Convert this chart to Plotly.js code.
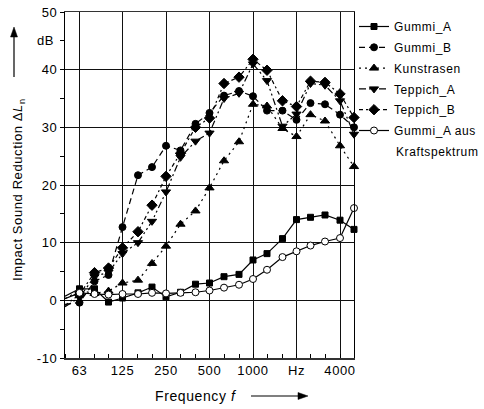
<!DOCTYPE html>
<html>
<head>
<meta charset="utf-8">
<script src="https://cdn.plot.ly/plotly-3.0.1.min.js"></script>
<style>
html,body{margin:0;padding:0;background:#fff;}
#chart{width:484px;height:409px;}
text{letter-spacing:0.6px;}
</style>
</head>
<body>
<div id="chart"></div>
<script>
// Third-octave band centre frequencies (Hz)
var freqs = [50,63,80,100,125,160,200,250,315,400,500,630,800,1000,1250,1600,2000,2500,3150,4000,5000];
var gummiA      = [0.7,2.0,2.0,-0.3,0.4,1.3,2.3,0.6,1.4,2.8,3.0,4.1,4.5,7.0,8.1,10.7,14.0,14.4,14.8,13.9,12.3];
var gummiB      = [-0.7,-0.4,3.3,4.4,12.7,21.7,23.1,26.8,26.0,30.6,32.5,35.5,36.3,35.4,32.9,32.9,31.3,34.2,34.0,32.2,30.0];
var kunstrasen  = [0.3,1.7,1.2,1.6,3.0,3.5,6.4,9.4,13.2,15.5,19.5,24.2,27.5,34.0,33.7,29.8,28.4,32.2,31.1,26.8,23.2];
var teppichA    = [-1.1,0.5,4.1,4.9,8.1,10.0,13.7,18.8,24.8,27.6,29.0,35.0,35.9,41.0,38.1,30.2,32.3,37.6,37.3,34.6,28.8];
var teppichB    = [-0.9,1.0,4.8,5.6,9.1,11.9,16.5,21.5,25.5,30.0,31.6,37.6,38.7,41.8,39.9,34.6,33.6,38.0,37.8,35.8,31.7];
var gummiAKraft = [0.3,1.3,1.1,1.0,1.1,1.1,1.3,1.2,1.3,1.4,1.7,2.2,2.7,3.7,5.3,7.5,8.5,9.5,10.2,10.8,16.0];

var xTickVals = [63,125,250,500,1000,2000,4000];
var xTickText = ['63','125','250','500','1000','Hz','4000'];
var yTickVals = [-10,0,10,20,30,40,50];
var yTickText = ['-10','0','10','20','30','40','50'];
var seriesNames = ['Gummi_A','Gummi_B','Kunstrasen','Teppich_A','Teppich_B','Gummi_A aus'];
var legendSecondLine = 'Kraftspektrum';

var black = '#000';
function tr(y, name, dash, symbol, size, fill){
  return {
    x: freqs, y: y, name: name, legendgroup: name, type: 'scatter', mode: 'lines+markers',
    line: {color: black, width: 1.2, dash: dash},
    marker: {symbol: symbol, size: size, color: fill || black, line: {color: black, width: 1}},
    cliponaxis: false
  };
}
var data = [
  tr(gummiA, seriesNames[0], 'solid', 'square', 6),
  tr(gummiB, seriesNames[1], '6px,4px', 'circle', 7),
  tr(kunstrasen, seriesNames[2], '2px,4px', 'triangle-up', 8),
  tr(teppichA, seriesNames[3], '7px,3px,2px,3px,2px,3px', 'triangle-down', 8),
  tr(teppichB, seriesNames[4], '4px,3px,2px,3px', 'diamond', 8),
  tr(gummiAKraft, seriesNames[5], 'solid', 'circle', 7, '#fff')
];

var fam = 'Liberation Sans, Arial, sans-serif';
var font = {family: fam, size: 12, color: '#000'};
var tickFont = {family: fam, size: 13, color: '#000'};
var px2x = function(p){ return (p - 65) / 289; };
var px2y = function(p){ return (358 - p) / 346; };

// arrow shapes (paper coordinates derived from pixel layout)
function arrowUp(x, yTail, yTip){
  return [
    {type: 'line', xref: 'paper', yref: 'paper', x0: px2x(x), x1: px2x(x), y0: px2y(yTail), y1: px2y(yTip + 6), line: {color: '#000', width: 1.2}},
    {type: 'path', xref: 'paper', yref: 'paper', fillcolor: '#000', line: {color: '#000', width: 0.5},
     path: 'M' + px2x(x) + ',' + px2y(yTip) + ' L' + px2x(x - 3.5) + ',' + px2y(yTip + 10) + ' L' + px2x(x + 3.5) + ',' + px2y(yTip + 10) + ' Z'}
  ];
}
function arrowRight(y, xTail, xTip){
  return [
    {type: 'line', xref: 'paper', yref: 'paper', x0: px2x(xTail), x1: px2x(xTip - 6), y0: px2y(y), y1: px2y(y), line: {color: '#000', width: 1.2}},
    {type: 'path', xref: 'paper', yref: 'paper', fillcolor: '#000', line: {color: '#000', width: 0.5},
     path: 'M' + px2x(xTip) + ',' + px2y(y) + ' L' + px2x(xTip - 10) + ',' + px2y(y - 3.5) + ' L' + px2x(xTip - 10) + ',' + px2y(y + 3.5) + ' Z'}
  ];
}

var layout = {
  width: 484, height: 409,
  margin: {l: 65, r: 130, t: 12, b: 51, autoexpand: false},
  paper_bgcolor: '#fff', plot_bgcolor: '#fff',
  font: font,
  showlegend: true,
  legend: {x: 1.0, xanchor: 'left', y: 1.0, yanchor: 'top', font: font,
           bgcolor: 'rgba(0,0,0,0)', tracegroupgap: 1.8, itemwidth: 30, traceorder: 'grouped'},
  xaxis: {
    type: 'log', range: [Math.log10(50), Math.log10(5000)],
    tickmode: 'array', tickvals: xTickVals, ticktext: xTickText,
    ticks: '', showgrid: true, gridcolor: '#111', gridwidth: 1,
    showline: true, linecolor: '#333', linewidth: 1.5, mirror: true,
    zeroline: false, tickfont: tickFont, automargin: false,
    minor: {tickmode: 'array', tickvals: freqs, ticks: 'inside', ticklen: 4, tickcolor: '#000', showgrid: false}
  },
  yaxis: {
    range: [-10, 50], tickmode: 'array', tickvals: yTickVals, ticktext: yTickText,
    ticks: 'outside', ticklen: 4, tickcolor: '#000',
    showgrid: true, gridcolor: '#111', gridwidth: 1,
    showline: true, linecolor: '#000', linewidth: 1, mirror: true,
    zeroline: false, tickfont: tickFont, automargin: false,
    minor: {tickmode: 'linear', tick0: -10, dtick: 5, ticks: 'outside', ticklen: 4, tickcolor: '#000', showgrid: false}
  },
  shapes: [].concat(arrowUp(14, 77, 27), arrowRight(396, 251, 308)),
  annotations: [
    {xref: 'paper', yref: 'y', x: 0, y: 45, xanchor: 'right', xshift: -9, text: 'dB', showarrow: false, font: tickFont},
    {xref: 'paper', yref: 'paper', x: px2x(18), y: px2y(190), xanchor: 'center', yanchor: 'middle',
     text: 'Impact Sound Reduction Δ<i>L</i><sub>n</sub>',
     textangle: -90, showarrow: false, font: {family: fam, size: 13, color: '#000'}},
    {xref: 'paper', yref: 'paper', x: px2x(196), y: px2y(396), xanchor: 'center', yanchor: 'middle',
     text: 'Frequency <i>f</i>', showarrow: false, font: {family: fam, size: 14, color: '#000'}},
    {xref: 'paper', yref: 'paper', x: px2x(394), y: px2y(152), xanchor: 'left', yanchor: 'middle',
     text: legendSecondLine, showarrow: false, font: font}
  ]
};

Plotly.newPlot('chart', data, layout, {staticPlot: true, displayModeBar: false});
</script>
</body>
</html>
